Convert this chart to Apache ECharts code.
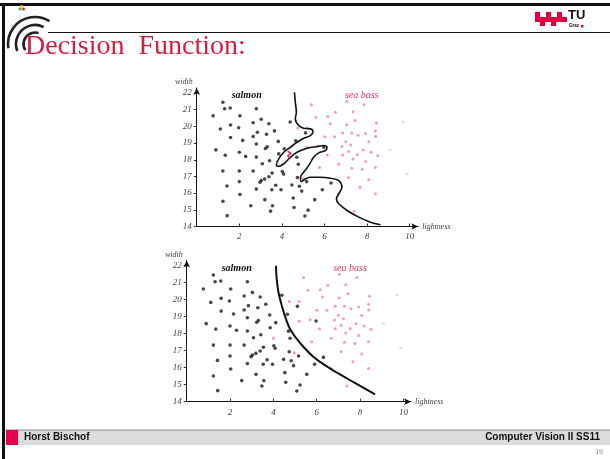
<!DOCTYPE html>
<html>
<head>
<meta charset="utf-8">
<script src="https://cdn.jsdelivr.net/npm/echarts@6/dist/echarts.min.js"></script>
<style>
html,body{margin:0;padding:0;background:#fff;}
#c{width:610px;height:459px;}
</style>
</head>
<body>
<div id="c"></div>
<script>
// ---- data (lightness, width) ----
var salmon = [[1.23,21.45],[1.31,21.06],[1.57,21.1],[0.77,20.63],[2.03,20.63],[2.8,21.06],[1.11,19.84],[1.59,20.08],[1.97,19.92],[2.65,20.22],[3.03,20.43],[3.39,20.16],[1.59,19.33],[2.16,19.16],[2.65,19.39],[2.85,19.65],[3.28,19.53],[3.65,19.73],[3.83,19.1],[0.9,18.59],[1.34,18.27],[2.0,18.45],[2.3,18.2],[2.8,18.94],[2.8,18.16],[3.23,18.67],[3.31,18.78],[3.42,17.94],[3.08,17.76],[3.85,18.35],[4.11,18.65],[1.23,17.33],[2.0,17.33],[2.65,17.33],[3.54,17.2],[3.39,16.98],[3.19,16.84],[3.03,16.75],[2.97,16.65],[4.08,17.14],[4.02,17.29],[2.0,16.69],[1.42,16.43],[2.03,15.92],[2.8,16.24],[3.53,16.2],[3.71,16.47],[3.96,16.2],[4.47,16.49],[4.82,16.41],[4.93,16.12],[4.73,16.94],[1.23,15.51],[2.54,15.24],[3.2,15.61],[3.56,15.24],[3.47,14.92],[4.53,15.71],[4.57,15.14],[1.43,14.65],[5.08,14.63],[5.23,14.98],[5.54,15.61],[5.9,16.2],[6.31,16.61],[5.97,18.75],[5.11,19.61],[4.65,19.14],[4.39,20.26],[4.77,17.73],[4.7,18.15],[5.16,16.69]];
var seaBass = [[5.39,21.3],[7.05,21.49],[7.85,21.3],[6.51,20.85],[7.34,20.88],[5.59,20.55],[6.16,20.59],[7.44,20.35],[6.27,20.16],[7.04,20.1],[8.44,20.2],[6.85,19.61],[7.28,19.61],[7.93,19.57],[6.01,19.38],[6.47,19.38],[7.58,19.47],[8.39,19.73],[7.0,19.08],[8.08,19.08],[7.23,18.88],[5.7,18.82],[5.19,18.73],[7.13,18.49],[6.85,18.29],[7.82,18.59],[8.5,18.24],[7.34,18.04],[7.93,17.9],[6.13,18.29],[5.19,19.9],[4.74,19.9],[6.67,17.73],[5.77,17.53],[7.28,17.49],[7.77,17.43],[8.39,17.53],[7.13,16.94],[8.08,16.8],[7.67,16.35],[6.65,15.96],[8.39,15.96],[7.39,14.92],[4.0,17.73],[4.97,16.88],[6.82,18.8],[7.54,18.31],[8.19,18.45],[8.4,19.4]];
var strayMarks = [[9.7,20.27],[9.08,18.6],[9.88,17.14]];
// complex (overfitted) decision boundary, upper plot
var boundaryComplex = [[4.59,22.04],[4.63,21.44],[4.68,20.85],[4.63,20.45],[4.79,20.05],[5.02,19.89],[5.34,19.85],[5.46,19.69],[5.34,19.45],[5.02,19.29],[4.71,19.05],[4.4,18.75],[4.09,18.45],[3.85,18.05],[3.74,17.69],[3.85,17.61],[4.09,17.75],[4.4,18.15],[4.71,18.45],[5.18,18.69],[5.65,18.79],[5.96,18.85],[6.12,18.75],[6.04,18.55],[5.73,18.41],[5.49,18.15],[5.26,17.65],[5.02,17.25],[4.87,16.95],[4.91,16.69],[5.1,16.85],[5.34,16.95],[5.81,16.95],[6.28,16.89],[6.67,16.75],[6.82,16.36],[6.67,15.96],[6.56,15.66],[6.67,15.36],[7.06,14.96],[7.61,14.56],[8.16,14.26],[8.63,14.1]];
var boundaryRed = [[4.27,18.52],[4.43,18.38],[4.27,18.24],[4.4,18.08]];
// simple decision boundary, lower plot
var boundarySimple = [[4.12,22.0],[4.15,21.25],[4.23,20.47],[4.38,19.69],[4.57,18.9],[4.8,18.2],[5.2,17.5],[5.84,16.65],[6.61,15.96],[7.38,15.38],[8.0,14.93],[8.69,14.43]];
var xTicks = [2,4,6,8,10];
var yTicks = [14,15,16,17,18,19,20,21,22];

var chart = echarts.init(document.getElementById('c'), null, {renderer:'canvas'});
var serif = 'Liberation Serif, DejaVu Serif, serif';
var sans = 'Liberation Sans, Arial, sans-serif';

function xAx(idx, max){
  return {
    type:'value', gridIndex:idx, min:0, max:max,
    name:'lightness', nameLocation:'end', nameGap:4,
    nameTextStyle:{fontFamily:serif, fontStyle:'italic', fontSize:8, color:'#444', verticalAlign:'middle'},
    axisLine:{show:true, lineStyle:{color:'#111', width:1}, symbol:['none','arrow'], symbolSize:[5,7]},
    axisTick:{show:true, inside:true, length:3, customValues:xTicks, lineStyle:{color:'#333'}},
    axisLabel:{show:true, customValues:xTicks, margin:6, fontFamily:serif, fontStyle:'italic', fontSize:9, color:'#444'},
    splitLine:{show:false}
  };
}
function yAx(idx){
  return {
    type:'value', gridIndex:idx, min:14, max:22.3,
    name:'width', nameLocation:'end', nameGap:2,
    nameTextStyle:{fontFamily:serif, fontStyle:'italic', fontSize:8, color:'#444', align:'right', padding:[0,4,0,0]},
    axisLine:{show:true, lineStyle:{color:'#111', width:1}, symbol:['none','arrow'], symbolSize:[5,7]},
    axisTick:{show:true, inside:false, length:3, customValues:yTicks, lineStyle:{color:'#333'}},
    axisLabel:{show:true, customValues:yTicks, margin:5, fontFamily:serif, fontStyle:'italic', fontSize:9, color:'#444'},
    splitLine:{show:false}
  };
}
function pts(name, data, xi, color, size, symbol){
  return {name:name, type:'scatter', xAxisIndex:xi, yAxisIndex:xi, data:data,
    symbol:symbol||'circle', symbolSize:size, itemStyle:{color:color}, silent:true, z:3};
}

var option = {
  animation:false,
  backgroundColor:'#fff',
  grid:[
    {left:196.7, right:191.8, top:88, bottom:232.5},
    {left:186.7, right:199, top:260.6, bottom:57.3}
  ],
  xAxis:[xAx(0,10.4), xAx(1,10.35)],
  yAxis:[yAx(0), yAx(1)],
  series:[
    pts('salmon', salmon, 0, '#1b1b1b', 3.6),
    pts('sea bass', seaBass, 0, 'rgba(238,90,125,0.75)', 3),
    pts('stray', strayMarks, 0, '#c8c8c8', [3,1.5], 'rect'),
    {type:'line', xAxisIndex:0, yAxisIndex:0, data:boundaryComplex, smooth:0.35, showSymbol:false,
      lineStyle:{color:'#111', width:1.6}, z:4, silent:true},
    {type:'line', xAxisIndex:0, yAxisIndex:0, data:boundaryRed, smooth:false, showSymbol:false,
      lineStyle:{color:'#e0205a', width:1.5}, z:5, silent:true},
    pts('salmon', salmon, 1, '#1b1b1b', 3.6),
    pts('sea bass', seaBass, 1, 'rgba(238,90,125,0.75)', 3),
    pts('stray', strayMarks, 1, '#c8c8c8', [3,1.5], 'rect'),
    {type:'line', xAxisIndex:1, yAxisIndex:1, data:boundarySimple, smooth:0.4, showSymbol:false,
      lineStyle:{color:'#111', width:2}, z:4, silent:true}
  ],
  graphic:[
    // slide frame
    {type:'rect', shape:{x:0,y:3,width:610,height:3}, style:{fill:'#111'}, silent:true},
    {type:'rect', shape:{x:2,y:3,width:3,height:456}, style:{fill:'#111'}, silent:true},
    {type:'line', shape:{x1:48,y1:32.5,x2:610,y2:32.5}, style:{stroke:'#111', lineWidth:1}, silent:true},
    // left logo
    {type:'arc', shape:{cx:35,cy:44,r:27,startAngle:Math.PI*0.95,endAngle:Math.PI*1.68,clockwise:true}, style:{stroke:'#222',lineWidth:2.6,fill:null}, silent:true},
    {type:'arc', shape:{cx:35,cy:44,r:19,startAngle:Math.PI*0.88,endAngle:Math.PI*1.65,clockwise:true}, style:{stroke:'#222',lineWidth:2.6,fill:null}, silent:true},
    {type:'arc', shape:{cx:35,cy:44,r:11.5,startAngle:Math.PI*0.82,endAngle:Math.PI*1.6,clockwise:true}, style:{stroke:'#222',lineWidth:2.6,fill:null}, silent:true},
    {type:'circle', shape:{cx:20,cy:9,r:1.6}, style:{fill:'#4caf50'}, silent:true},
    {type:'circle', shape:{cx:23.5,cy:9,r:1.6}, style:{fill:'#e53935'}, silent:true},
    {type:'circle', shape:{cx:21.7,cy:6.5,r:1.4}, style:{fill:'#fbc02d'}, silent:true},
    // title
    {type:'text', left:25, top:33, style:{text:'Decision  Function:', fill:'#d81e3f', font:'28px '+serif}, silent:true},
    // TU Graz logo
    {type:'rect', shape:{x:535,y:12,width:5,height:5}, style:{fill:'#e4003c'}, silent:true},
    {type:'rect', shape:{x:546,y:12,width:5,height:5}, style:{fill:'#e4003c'}, silent:true},
    {type:'rect', shape:{x:557,y:12,width:5,height:5}, style:{fill:'#e4003c'}, silent:true},
    {type:'rect', shape:{x:535,y:17,width:32,height:5}, style:{fill:'#e4003c'}, silent:true},
    {type:'rect', shape:{x:540,y:22,width:5,height:4}, style:{fill:'#e4003c'}, silent:true},
    {type:'rect', shape:{x:551,y:22,width:5,height:4}, style:{fill:'#e4003c'}, silent:true},
    {type:'text', x:568, y:9, style:{text:'TU', fill:'#111', font:'bold 13px '+sans}, silent:true},
    {type:'text', x:569, y:23, style:{text:'Graz', fill:'#111', font:'bold 4.5px '+sans}, silent:true},
    {type:'rect', shape:{x:581,y:25,width:2.5,height:2.5}, style:{fill:'#e4003c'}, silent:true},
    // plot labels
    {type:'text', x:246.7, y:95, style:{text:'salmon', fill:'#111', font:'italic bold 10px '+serif, align:'center', verticalAlign:'middle'}, silent:true},
    {type:'text', x:361.7, y:95, style:{text:'sea bass', fill:'#e8305c', font:'italic 10px '+serif, align:'center', verticalAlign:'middle'}, silent:true},
    {type:'text', x:236.7, y:268.5, style:{text:'salmon', fill:'#111', font:'italic bold 10px '+serif, align:'center', verticalAlign:'middle'}, silent:true},
    {type:'text', x:350, y:268.5, style:{text:'sea bass', fill:'#e8305c', font:'italic 10px '+serif, align:'center', verticalAlign:'middle'}, silent:true},
    // footer
    {type:'rect', shape:{x:6,y:430,width:604,height:15}, style:{fill:'#dcdcdc'}, silent:true},
    {type:'line', shape:{x1:6,y1:430,x2:610,y2:430}, style:{stroke:'#8a8a8a', lineWidth:1}, silent:true},
    {type:'rect', shape:{x:6,y:430,width:12,height:15}, style:{fill:'#e6004c'}, silent:true},
    {type:'text', x:24, y:437.5, style:{text:'Horst Bischof', fill:'#111', font:'bold 10px '+sans, verticalAlign:'middle'}, silent:true},
    {type:'text', x:600, y:437.5, style:{text:'Computer Vision II SS11', fill:'#111', font:'bold 10px '+sans, align:'right', verticalAlign:'middle'}, silent:true},
    {type:'text', x:603, y:452, style:{text:'19', fill:'#888', font:'7px '+sans, align:'right', verticalAlign:'middle'}, silent:true}
  ]
};
chart.setOption(option);
</script>
</body>
</html>
